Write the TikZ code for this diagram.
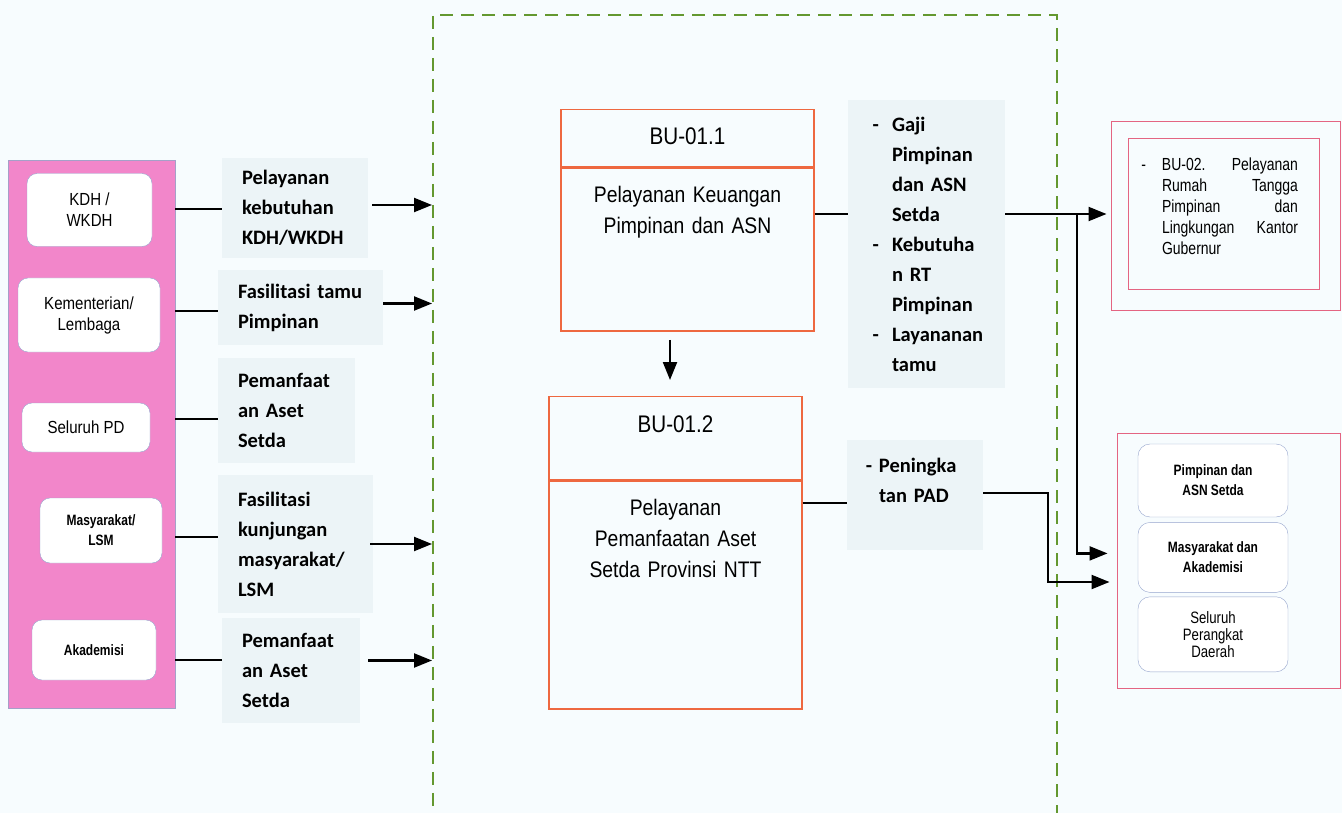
\documentclass[tikz,border=0pt]{standalone}
\usepackage{fontspec}
\usepackage{tikz}
\usetikzlibrary{arrows.meta,positioning,calc}
\newfontfamily\calib{Carlito}
\newfontfamily\arialn{Liberation Sans}[FakeStretch=0.86]
\newfontfamily\arialc{Liberation Sans}[FakeStretch=0.80]
\definecolor{bgcol}{RGB}{247,252,254}
\definecolor{lblfill}{RGB}{236,244,247}
\definecolor{pinkpanel}{RGB}{242,134,202}
\definecolor{paneledge}{RGB}{165,160,200}
\definecolor{boxedge}{RGB}{150,165,205}
\definecolor{buorange}{RGB}{238,104,64}
\definecolor{roseedge}{RGB}{228,100,130}
\definecolor{grpgreen}{RGB}{100,152,48}
\newcommand\itemdash{\leavevmode\llap{-\hspace{13pt}}}

\begin{document}
\begin{tikzpicture}[
    x=1pt, y=-1pt,
    srcbox/.style={rectangle, draw=boxedge, fill=white, rounded corners=10pt, align=center, font=\arialn\fontsize{17.5}{21}\selectfont},
    audbox/.style={rectangle, draw=boxedge, fill=white, rounded corners=12pt, align=center, minimum width=150pt, font=\arialc\bfseries\fontsize{15}{20}\selectfont},
    lblbox/.style={rectangle, fill=lblfill, inner sep=0pt, align=left, font=\calib\bfseries\fontsize{20.5}{30}\selectfont, execute at begin node={\leftskip=#1\relax}},
    lblbox/.default=20pt,
    buhead/.style={rectangle, draw=buorange, line width=1.4pt, minimum width=253pt, inner sep=0pt, font=\arialn\fontsize{24}{28}\selectfont},
    bubody/.style={rectangle, draw=buorange, line width=1.4pt, text width=253pt, inner sep=0pt, align=center, font=\arialn\fontsize{22.5}{31}\selectfont},
    rosebox/.style={rectangle, draw=roseedge, line width=1pt, inner sep=0pt},
    grp/.style={rectangle, draw=grpgreen, line width=1.8pt, dash pattern=on 13pt off 8pt},
    line/.style={line width=2.2pt},
    arrow/.style={-{Triangle[length=18pt,width=14pt]}, line width=2.2pt}
]
\path[use as bounding box, fill=bgcol] (0,0) rectangle (1342,813);

% === PROCESS GROUP (dashed) ===
\node[grp, minimum width=624pt, minimum height=830pt, anchor=north west] (grpbox) at (432,14) {};

% === USERS (left) ===
\node[draw=paneledge, fill=pinkpanel, minimum width=167pt, minimum height=548pt] (users) at (91.5,434) {};
\node[srcbox, minimum width=125pt, minimum height=73pt] (kdh) at (89.5,210) {KDH /\\WKDH};
\node[srcbox, minimum width=142pt, minimum height=74pt] (kem) at (89,315) {Kementerian/\\Lembaga};
\node[srcbox, minimum width=128pt, minimum height=49pt] (sel) at (86,427.5) {Seluruh PD};
\node[srcbox, minimum width=122pt, minimum height=65pt, font=\arialc\bfseries\fontsize{15}{20}\selectfont] (mas) at (101,530.5) {Masyarakat/\\LSM};
\node[srcbox, minimum width=124pt, minimum height=60pt, font=\arialc\bfseries\fontsize{15}{20}\selectfont] (aka) at (94,650) {Akademisi};

% === INPUT LABELS ===
\node[lblbox, text width=146pt, minimum height=100pt] (lbl1) at (295,208) {Pelayanan\\kebutuhan\\KDH/WKDH};
\node[lblbox, text width=165pt, minimum height=75pt] (lbl2) at (300.5,307.5) {Fasilitasi tamu\\Pimpinan};
\node[lblbox, text width=137pt, minimum height=105pt] (lbl3) at (286.5,410.5) {Pemanfaat\\an Aset\\Setda};
\node[lblbox, text width=155pt, minimum height=138pt] (lbl4) at (295.5,544) {Fasilitasi\\kunjungan\\masyarakat/\\LSM};
\node[lblbox, text width=138pt, minimum height=105pt] (lbl5) at (291,670.5) {Pemanfaat\\an Aset\\Setda};

% === BUSINESS PROCESSES ===
\node[buhead, text height=34.5pt, text depth=22.5pt, anchor=north] (bu1h) at (687.5,109) {BU-01.1};
\node[bubody, text height=34pt, text depth=129pt, below=0pt of bu1h] (bu1b) {Pelayanan Keuangan\\Pimpinan dan ASN};
\node[buhead, text height=35.5pt, text depth=47.5pt, anchor=north] (bu2h) at (675.5,396) {BU-01.2};
\node[bubody, text height=34pt, text depth=194pt, below=0pt of bu2h] (bu2b) {Pelayanan\\Pemanfaatan Aset\\Setda Provinsi NTT};

% === OUTPUT LABELS ===
\node[lblbox=44pt, text width=157pt, minimum height=288pt] (rt1) at (926.5,244) {\itemdash Gaji\\Pimpinan\\dan ASN\\Setda\\\itemdash Kebutuha\\n RT\\Pimpinan\\\itemdash Layananan\\tamu};
\node[lblbox=32pt, text width=136pt, text height=32pt, text depth=78pt, anchor=north] (pad) at (915,440) {\leavevmode\llap{-\ }Peningka\\tan PAD};

% === CUSTOMERS (right) ===
\node[rosebox, minimum width=229pt, minimum height=188pt] (bu02o) at (1225.5,216) {};
\node[rosebox, text width=191pt, text height=32pt, text depth=119pt, anchor=north, align=justify,
      font=\arialc\fontsize{17.5}{21}\selectfont, execute at begin node={\leftskip=34pt\rightskip=21pt\relax}] (bu02) at (1223.5,138)
      {\leavevmode\llap{-\hspace{16pt}}BU-02. Pelayanan\linebreak Rumah Tangga\linebreak Pimpinan dan\linebreak Lingkungan Kantor\linebreak Gubernur};

\node[rosebox, minimum width=223pt, minimum height=255pt] (audo) at (1228.5,560.5) {};
\node[audbox, minimum height=73pt] (asn) at (1213,480.5) {Pimpinan dan\\ASN Setda};
\node[audbox, minimum height=70pt, below=5pt of asn] (akm) {Masyarakat dan\\Akademisi};
\node[audbox, minimum height=75pt, below=4pt of akm, font=\arialc\fontsize{16.5}{17}\selectfont] (pdall) {Seluruh\\Perangkat\\Daerah};

% === CONNECTORS ===
\coordinate (r1) at ($(kdh)!0.5!(lbl1)$);
\coordinate (r2) at ($(kem)!0.5!(lbl2)$);
\coordinate (r3) at ($(sel)!0.5!(lbl3)$);
\coordinate (r4) at ($(mas)!0.5!(lbl4)$);
\coordinate (r5) at ($(aka)!0.5!(lbl5)$);
\draw[line] (users.east |- r1) -- (lbl1.west |- r1);
\draw[line] (users.east |- r2) -- (lbl2.west |- r2);
\draw[line] (users.east |- r3) -- (lbl3.west |- r3);
\draw[line] (users.east |- r4) -- (lbl4.west |- r4);
\draw[line] (users.east |- r5) -- (lbl5.west |- r5);

\draw[arrow] ([xshift=4pt,yshift=3pt]lbl1.east) -- ([yshift=3pt]lbl1.east -| grpbox.west);
\draw[arrow] ([yshift=4pt]lbl2.east) -- ([yshift=4pt]lbl2.east -| grpbox.west);
\draw[arrow] ([xshift=-3pt]lbl4.east) -- (lbl4.east -| grpbox.west);
\draw[arrow] ([xshift=8pt,yshift=10pt]lbl5.east) -- ([yshift=10pt]lbl5.east -| grpbox.west);

\draw[arrow] ([xshift=-17.5pt,yshift=-8pt]bu1b.south) -- ([xshift=-5.5pt,yshift=16pt]bu2h.north);

\coordinate (j1) at (1077,214);
\coordinate (j2) at (1048,582);
\coordinate (p1) at (915,503);
\coordinate (p2) at (915,493);
\draw[line] (bu1b.east |- j1) -- (rt1.west |- j1);
\draw[arrow, shorten >=4pt] (rt1.east |- j1) -- (bu02o.west |- j1);
\draw[arrow, shorten >=9pt] (j1) |- ([yshift=4pt]audo.west |- akm);
\draw[line] (bu2b.east |- p1) -- (pad.west |- p1);
\draw[arrow, shorten >=7pt] (pad.east |- p2) -| (j2) -- (audo.west |- j2);

\end{tikzpicture}
\end{document}
